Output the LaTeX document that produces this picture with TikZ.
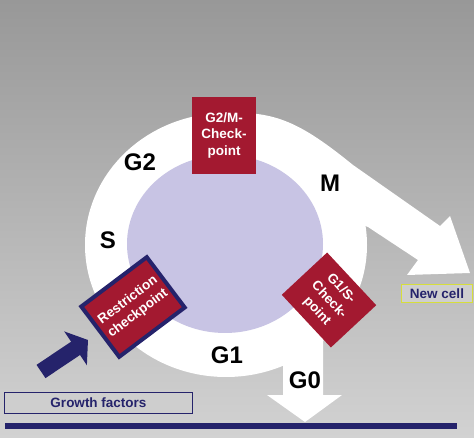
\documentclass[tikz,border=0pt]{standalone}
\usepackage{fontspec}
\setmainfont{Liberation Sans}
\usetikzlibrary{arrows.meta}
\definecolor{ckred}{RGB}{163,25,48}
\definecolor{navy}{RGB}{37,35,107}
\definecolor{lilac}{RGB}{200,196,228}
\definecolor{bgtop}{RGB}{152,152,152}
\definecolor{bgbot}{RGB}{210,210,210}
\definecolor{boxgray}{RGB}{206,206,206}
\definecolor{lime}{RGB}{214,222,60}

\begin{document}
\begin{tikzpicture}
  [x=1pt, y=-1pt,
   ckpt/.style={fill=ckred, text=white, align=center, inner sep=0pt,
     font=\fontsize{13.5}{16.5}\selectfont\bfseries},
   phase/.style={inner sep=0pt, font=\fontsize{24}{26}\selectfont\bfseries},
   infobox/.style={fill=boxgray, text=navy, inner sep=0pt,
     font=\fontsize{13.5}{15}\selectfont\bfseries}]

  % background
  \shade[top color=bgtop, bottom color=bgbot] (0,0) rectangle (474,438);
  \useasboundingbox (0,0) rectangle (474,438);

  % ring with the M and G0 arrows
  \fill[white] (226,245) ellipse [x radius=141, y radius=132];
  \fill[white] (226,113) .. controls (275,111) and (300,122) .. (353,165)
    -- (440,226) -- (450,216) -- (470,273) -- (407,275) -- (418,260)
    -- (368,227) -- (300,200) -- cycle;
  \fill[white] (283,330) -- (283,395) -- (267,395) -- (305,422)
    -- (342,395) -- (323,395) -- (323,330) -- cycle;
  \fill[lilac] (225,244) ellipse [x radius=98, y radius=89];

  % checkpoints
  \node[ckpt, minimum width=64, minimum height=77] (g2m) at (224,135.5) {G2/M-\\Check-\\point};
  \node[ckpt, draw=navy, line width=4pt, minimum width=82, minimum height=63,
    rotate=37] (restr) at (133,307) {Restriction\\checkpoint};
  \node[ckpt, minimum width=72, minimum height=62, rotate=-47] (g1s) at (329,300) {G1/S-\\Check-\\point};

  % phases
  \node[phase] (G2) at (140,162) {G2};
  \node[phase] (M) at (330,183) {M};
  \node[phase] (S) at (108,240) {S};
  \node[phase] (G1) at (227,355) {G1};
  \node[phase] (G0) at (305,380) {G0};

  \node[infobox, draw=lime, line width=1.5pt, minimum width=71, minimum height=18] (newcell) at (437,293.5) {New cell};
  \node[infobox, draw=navy, line width=1pt, minimum width=188, minimum height=21] (growth) at (98.5,403) {Growth factors};
  \fill[navy] (5,423) rectangle (457,429);

  % growth factors push the cell past the restriction point
  \coordinate (gftail) at (41,371.5);
  \coordinate (gftip) at (88,340);
  \draw[navy, line width=16pt, -{Triangle[length=15pt, width=40pt]}] (gftail) -- (gftip);
\end{tikzpicture}
\end{document}
